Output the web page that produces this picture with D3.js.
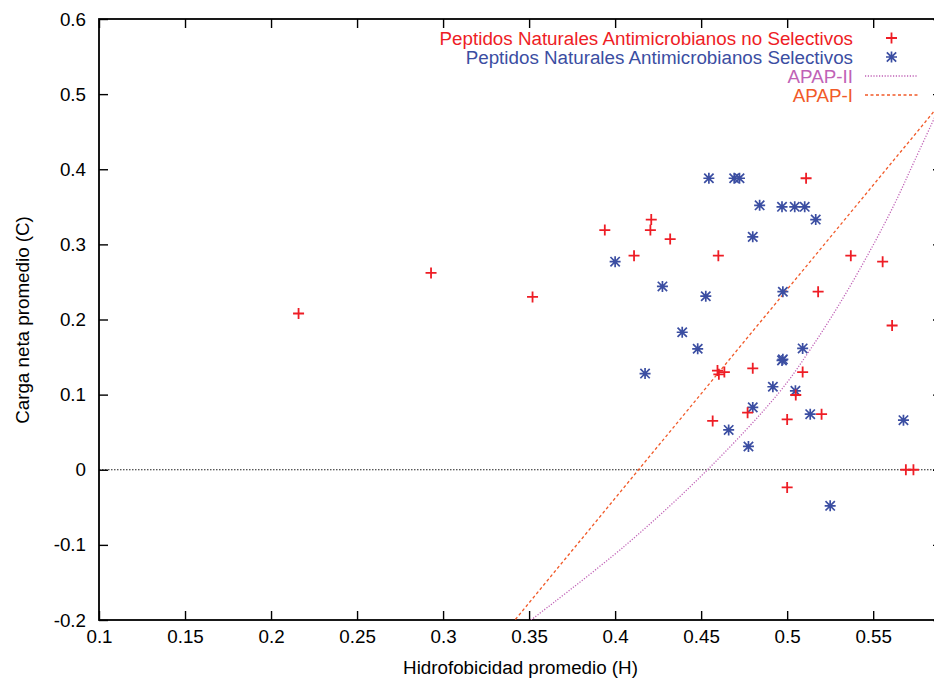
<!DOCTYPE html>
<html>
<head>
<meta charset="utf-8">
<script src="https://cdn.jsdelivr.net/npm/d3@7"></script>
<style>
  html, body { margin: 0; padding: 0; background: #fff; overflow: hidden; }
  svg { display: block; }
  text { font-family: "Liberation Sans", Arial, Helvetica, sans-serif; }
</style>
</head>
<body>
<svg id="chart" width="934" height="679"></svg>
<script>
// ---------- data ----------
const noSelH = [0.216, 0.293, 0.352, 0.394, 0.421, 0.4205, 0.432, 0.411, 0.460, 0.511, 0.518, 0.537, 0.5555, 0.561,
                0.4595, 0.4603, 0.4635, 0.480, 0.509, 0.505, 0.477, 0.4567, 0.500, 0.520, 0.569, 0.5734, 0.500];
const noSelC = [0.208, 0.262, 0.230, 0.319, 0.333, 0.319, 0.307, 0.285, 0.285, 0.388, 0.237, 0.285, 0.277, 0.192,
                0.132, 0.127, 0.130, 0.135, 0.130, 0.0995, 0.076, 0.065, 0.067, 0.074, 0.0, 0.0, -0.0235];

const selH = [0.400, 0.4275, 0.4527, 0.4545, 0.4692, 0.4723, 0.484, 0.497, 0.5044, 0.5102, 0.5166, 0.480, 0.4975,
              0.439, 0.448, 0.4174, 0.509, 0.497, 0.4975, 0.4917, 0.5048, 0.480, 0.5134, 0.466, 0.4775, 0.5676, 0.525];
const selC = [0.277, 0.244, 0.231, 0.388, 0.388, 0.388, 0.352, 0.350, 0.350, 0.350, 0.333, 0.310, 0.237,
              0.183, 0.161, 0.128, 0.1615, 0.1455, 0.147, 0.1105, 0.105, 0.083, 0.074, 0.053, 0.031, 0.066, -0.048];

const apap1H = [0.3400, 0.4136, 0.5900];
const apap1C = [-0.205, 0.0, 0.490];

const apap2H = [0.3511, 0.4063, 0.4537, 0.4950, 0.5134, 0.5318, 0.5483, 0.5620, 0.5744, 0.5900];
const apap2C = [-0.200, -0.100, 0.000, 0.102, 0.160, 0.226, 0.292, 0.352, 0.413, 0.490];

const xTicks = [0.1, 0.15, 0.2, 0.25, 0.3, 0.35, 0.4, 0.45, 0.5, 0.55];
const xTickLabels = ["0.1", "0.15", "0.2", "0.25", "0.3", "0.35", "0.4", "0.45", "0.5", "0.55"];
const yTicks = [-0.2, -0.1, 0, 0.1, 0.2, 0.3, 0.4, 0.5, 0.6];
const yTickLabels = ["-0.2", "-0.1", "0", "0.1", "0.2", "0.3", "0.4", "0.5", "0.6"];

const seriesNames = ["Peptidos Naturales Antimicrobianos no Selectivos",
                     "Peptidos Naturales Antimicrobianos Selectivos",
                     "APAP-II", "APAP-I"];
const xTitle = "Hidrofobicidad promedio (H)";
const yTitle = "Carga neta promedio (C)";

// ---------- styles ----------
const RED = "#ee1d25", BLUE = "#3b4ea2", PURPLE = "#c062b6", ORANGE = "#f15a29";
const FS = 18.8;

// ---------- layout ----------
const svg = d3.select("#chart");
const L = 99, R = 942, T = 19, B = 620;
const x = d3.scaleLinear().domain([0.1, 0.59]).range([L, R]);
const y = d3.scaleLinear().domain([-0.2, 0.6]).range([B, T]);

svg.append("defs").append("clipPath").attr("id", "plotclip")
  .append("rect").attr("x", L).attr("y", T).attr("width", R - L).attr("height", B - T);

// zero axis
svg.append("line")
  .attr("x1", L).attr("x2", R).attr("y1", y(0)).attr("y2", y(0))
  .attr("stroke", "#222").attr("stroke-width", 1.1).attr("stroke-dasharray", "1.5,1.5");

// axes
const tickLen = 9;
function styleAxis(g) {
  g.select(".domain").remove();
  g.selectAll(".tick line").attr("stroke", "#000").attr("stroke-width", 1.4);
  g.selectAll(".tick text").attr("fill", "#000").style("font-size", FS + "px")
    .style("font-family", '"Liberation Sans", Arial, Helvetica, sans-serif');
}
svg.append("g").attr("transform", `translate(0,${B})`)
  .call(d3.axisBottom(x).tickValues(xTicks).tickSize(-tickLen).tickPadding(10)
    .tickFormat((d, i) => xTickLabels[i]))
  .call(styleAxis);
svg.append("g").attr("transform", `translate(0,${T})`)
  .call(d3.axisTop(x).tickValues(xTicks).tickSize(-tickLen).tickFormat(""))
  .call(styleAxis);
svg.append("g").attr("transform", `translate(${L},0)`)
  .call(d3.axisLeft(y).tickValues(yTicks).tickSize(-tickLen).tickPadding(13)
    .tickFormat((d, i) => yTickLabels[i]))
  .call(styleAxis);
svg.append("g").attr("transform", `translate(${R},0)`)
  .call(d3.axisRight(y).tickValues(yTicks).tickSize(-tickLen).tickFormat(""))
  .call(styleAxis);

// border
svg.append("rect").attr("x", L).attr("y", T).attr("width", R - L).attr("height", B - T)
  .attr("fill", "none").attr("stroke", "#000").attr("stroke-width", 1.8);

// titles
svg.append("text").attr("x", (L + R) / 2).attr("y", 673.5).attr("text-anchor", "middle")
  .style("font-size", FS + "px").attr("fill", "#000").text(xTitle);
svg.append("text").attr("transform", "translate(28.5,320) rotate(-90)").attr("text-anchor", "middle")
  .style("font-size", FS + "px").attr("fill", "#000").text(yTitle);

// lines
const plot = svg.append("g").attr("clip-path", "url(#plotclip)");
const line1 = d3.line().x(d => x(d[0])).y(d => y(d[1]));
const line2 = d3.line().x(d => x(d[0])).y(d => y(d[1])).curve(d3.curveCatmullRom.alpha(0.5));
plot.append("path").datum(apap1H.map((h, i) => [h, apap1C[i]]))
  .attr("d", line1).attr("fill", "none").attr("stroke", ORANGE).attr("stroke-width", 1.3)
  .attr("stroke-dasharray", "3,2.5");
plot.append("path").datum(apap2H.map((h, i) => [h, apap2C[i]]))
  .attr("d", line2).attr("fill", "none").attr("stroke", PURPLE)
  .attr("stroke-width", 1.3).attr("stroke-dasharray", "1.2,1.6");

// markers
function plus(g, cx, cy, s, color) {
  g.append("path").attr("d", `M${cx - s},${cy}H${cx + s}M${cx},${cy - s}V${cy + s}`)
    .attr("stroke", color).attr("stroke-width", 1.8).attr("fill", "none");
}
function star(g, cx, cy, s, color) {
  const d = s * 0.85;
  g.append("path").attr("d",
    `M${cx - s},${cy}H${cx + s}M${cx},${cy - s}V${cy + s}` +
    `M${cx - d},${cy - d}L${cx + d},${cy + d}M${cx - d},${cy + d}L${cx + d},${cy - d}`)
    .attr("stroke", color).attr("stroke-width", 1.7).attr("fill", "none");
}
const pts = svg.append("g");
selH.forEach((h, i) => star(pts, x(h), y(selC[i]), 5.5, BLUE));
noSelH.forEach((h, i) => plus(pts, x(h), y(noSelC[i]), 5.5, RED));

// legend
const legX = 853, sampleL = 865, sampleR = 918, legY0 = 38, legDY = 19;
const legColors = [RED, BLUE, PURPLE, ORANGE];
const leg = svg.append("g");
seriesNames.forEach((name, i) => {
  const yy = legY0 + i * legDY;
  leg.append("text").attr("x", legX).attr("y", yy).attr("dy", "0.35em")
    .attr("text-anchor", "end").style("font-size", FS + "px").attr("fill", legColors[i]).text(name);
});
plus(leg, (sampleL + sampleR) / 2, legY0, 5.5, RED);
star(leg, (sampleL + sampleR) / 2, legY0 + legDY, 5.5, BLUE);
leg.append("line").attr("x1", sampleL).attr("x2", sampleR).attr("y1", legY0 + 2 * legDY).attr("y2", legY0 + 2 * legDY)
  .attr("stroke", PURPLE).attr("stroke-width", 1.3).attr("stroke-dasharray", "1.2,1.6");
leg.append("line").attr("x1", sampleL).attr("x2", sampleR).attr("y1", legY0 + 3 * legDY).attr("y2", legY0 + 3 * legDY)
  .attr("stroke", ORANGE).attr("stroke-width", 1.3).attr("stroke-dasharray", "3,2.5");
</script>
</body>
</html>
